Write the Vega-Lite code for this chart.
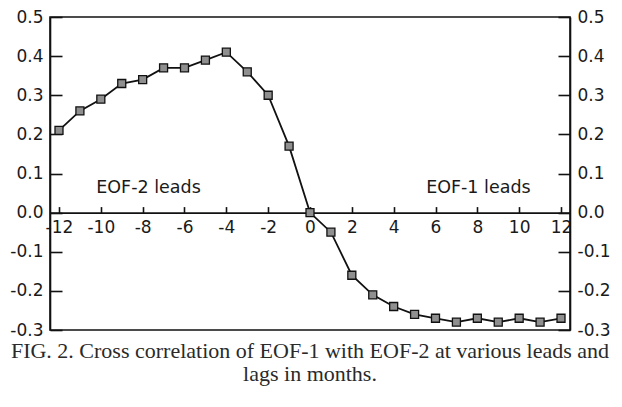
{
  "$schema": "https://vega.github.io/schema/vega-lite/v6.json",
  "autosize": "none",
  "width": 520,
  "height": 313,
  "padding": {"left": 50, "top": 17, "right": 52, "bottom": 77},
  "background": "white",
  "config": {
    "view": {"stroke": "#111", "strokeWidth": 1.6},
    "axis": {
      "labelFont": "DejaVu Sans",
      "labelFontSize": 17,
      "labelColor": "#1a1a1a",
      "domainColor": "#111",
      "domainWidth": 1.6,
      "tickColor": "#111",
      "tickWidth": 1.6,
      "grid": false,
      "title": null
    }
  },
  "title": {
    "text": ["FIG. 2. Cross correlation of EOF-1 with EOF-2 at various leads and", "lags in months."],
    "orient": "bottom",
    "anchor": "middle",
    "font": "Liberation Serif",
    "fontSize": 22,
    "fontWeight": "normal",
    "color": "#2a2a2a",
    "lineHeight": 23,
    "offset": 3
  },
  "layer": [
    {
      "data": {"values": [
        {"lag": -12, "corr": 0.21}, {"lag": -11, "corr": 0.26}, {"lag": -10, "corr": 0.29},
        {"lag": -9, "corr": 0.33}, {"lag": -8, "corr": 0.34}, {"lag": -7, "corr": 0.37},
        {"lag": -6, "corr": 0.37}, {"lag": -5, "corr": 0.39}, {"lag": -4, "corr": 0.41},
        {"lag": -3, "corr": 0.36}, {"lag": -2, "corr": 0.30}, {"lag": -1, "corr": 0.17},
        {"lag": 0, "corr": 0.0}, {"lag": 1, "corr": -0.05}, {"lag": 2, "corr": -0.16},
        {"lag": 3, "corr": -0.21}, {"lag": 4, "corr": -0.24}, {"lag": 5, "corr": -0.26},
        {"lag": 6, "corr": -0.27}, {"lag": 7, "corr": -0.28}, {"lag": 8, "corr": -0.27},
        {"lag": 9, "corr": -0.28}, {"lag": 10, "corr": -0.27}, {"lag": 11, "corr": -0.28},
        {"lag": 12, "corr": -0.27}
      ]},
      "encoding": {
        "x": {
          "field": "lag", "type": "quantitative",
          "scale": {"domain": [-12.43, 12.43], "nice": false, "zero": false},
          "axis": {
            "orient": "bottom",
            "offset": -117.4,
            "values": [-12,-11,-10,-9,-8,-7,-6,-5,-4,-3,-2,-1,0,1,2,3,4,5,6,7,8,9,10,11,12],
            "labelExpr": "datum.value % 2 == 0 ? replace(format(datum.value, 'd'), '\u2212', '-') : ''",
            "tickSize": -6,
            "labelPadding": 13,
            "labelFlush": false,
            "labelOverlap": false,
            "domain": true
          }
        },
        "y": {
          "field": "corr", "type": "quantitative",
          "scale": {"domain": [-0.3, 0.5], "nice": false, "zero": false},
          "axis": {
            "orient": "left",
            "values": [-0.3,-0.2,-0.1,0,0.1,0.2,0.3,0.4,0.5],
            "labelExpr": "replace(format(datum.value, '.1f'), '\u2212', '-')",
            "tickSize": -12,
            "labelPadding": 19,
            "labelFlush": false,
            "labelOverlap": false
          }
        }
      },
      "layer": [
        {"mark": {"type": "line", "color": "#111", "strokeWidth": 1.8}},
        {"mark": {"type": "point", "shape": "square", "filled": true, "fill": "#8f8f8f", "stroke": "#111", "strokeWidth": 1.3, "size": 64, "opacity": 1}}
      ]
    },
    {
      "data": {"values": [
        {"lag": -12, "corr": 0.21}
      ]},
      "mark": {"type": "point", "opacity": 0},
      "encoding": {
        "x": {"field": "lag", "type": "quantitative"},
        "y": {
          "field": "corr", "type": "quantitative",
          "axis": {
            "orient": "right",
            "values": [-0.3,-0.2,-0.1,0,0.1,0.2,0.3,0.4,0.5],
            "labelExpr": "replace(format(datum.value, '.1f'), '\u2212', '-')",
            "tickSize": -12,
            "labelPadding": 19,
            "labelFlush": false,
            "labelOverlap": false
          }
        }
      }
    },
    {
      "data": {"values": [
        {"lag": -7.72, "corr": 0.063, "label": "EOF-2 leads"},
        {"lag": 8.05, "corr": 0.063, "label": "EOF-1 leads"}
      ]},
      "mark": {"type": "text", "font": "DejaVu Sans", "fontSize": 17.5, "color": "#1a1a1a", "baseline": "middle", "align": "center"},
      "encoding": {
        "x": {"field": "lag", "type": "quantitative"},
        "y": {"field": "corr", "type": "quantitative", "axis": null},
        "text": {"field": "label"}
      }
    }
  ],
  "resolve": {"scale": {"y": "shared"}, "axis": {"y": "independent"}}
}
